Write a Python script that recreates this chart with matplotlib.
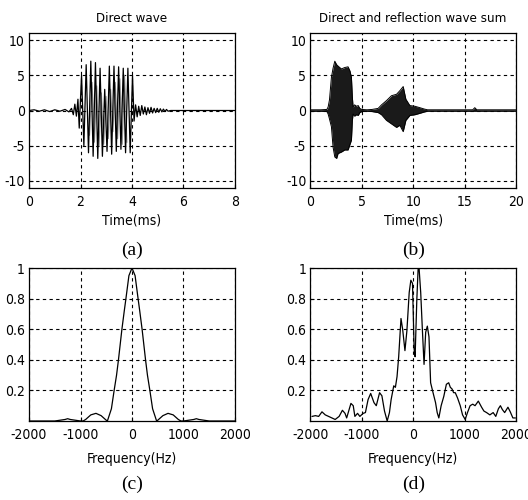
import matplotlib.pyplot as plt

# the reference uses a narrow sans, so take the condensed DejaVu face
plt.rcParams['font.family'] = ['DejaVu Sans']
plt.rcParams['font.stretch'] = 'condensed'
plt.rcParams['axes.unicode_minus'] = False

# (a) direct wave: time (ms) and amplitude, extremes
t_direct = [0.0, 0.2, 0.4, 0.6, 0.8, 1.0, 1.2, 1.4, 1.55, 1.65, 1.72, 1.78, 1.84, 1.90,
            1.95, 2.04, 2.13, 2.22, 2.31, 2.40, 2.49, 2.58, 2.67, 2.76, 2.85, 2.94,
            3.03, 3.12, 3.21, 3.30, 3.39, 3.48, 3.57, 3.66, 3.75, 3.84, 3.93, 4.02,
            4.08, 4.14, 4.20, 4.26, 4.32, 4.38, 4.44, 4.50, 4.56, 4.62, 4.68, 4.74,
            4.80, 4.86, 4.92, 4.98, 5.04, 5.10, 5.16, 5.22, 5.28, 5.34, 5.40, 5.50, 5.60, 8.0]
v_direct = [0.0, 0.1, -0.1, 0.1, -0.15, 0.1, -0.1, 0.15, -0.2, 0.3, -0.6, 0.9, -0.8, 1.6,
            -2.5, 5.0, -5.0, 6.5, -6.0, 7.0, -6.5, 6.8, -6.8, 6.0, -6.5, 3.0,
            -5.8, 6.3, -6.2, 6.3, -5.8, 6.2, -5.5, 6.0, -6.0, 6.0, -6.0, 5.0,
            -1.5, 0.8, -0.9, 0.6, -0.7, 0.7, -0.5, 0.5, -0.6, 0.4, -0.4, 0.45,
            -0.35, 0.3, -0.3, 0.3, -0.25, 0.25, -0.2, 0.2, -0.15, 0.15, -0.1, 0.0, 0.0, 0.0]
# lighter inner oscillation visible between the dark strokes
t_inner = [2.35, 2.45, 2.54, 2.63, 2.72, 2.81, 2.90, 2.99, 3.08, 3.17, 3.26, 3.35,
           3.44, 3.53, 3.62, 3.71, 3.80]
v_inner = [-3.5, 4.0, -4.5, 3.5, -5.0, 2.5, -4.8, 2.0, -4.0, 3.0, -3.0, 4.0,
           -4.0, 4.5, -4.8, 5.0, -4.5]

# (b) direct + reflection: upper and lower envelope of the dense waveform
t_sum = [0.0, 1.0, 1.6, 1.72, 1.85, 2.04, 2.2, 2.37, 2.55, 2.69, 3.01, 3.34, 3.66, 3.85,
         3.99, 4.08, 4.15, 4.3, 4.48, 4.65, 4.8, 5.0, 5.5, 6.0, 6.59, 6.92, 7.40, 7.89,
         8.38, 8.70, 9.03, 9.29, 9.68, 10.17, 10.65, 11.1, 11.4, 12.0, 14.0, 15.8, 16.0,
         16.2, 18.0, 20.0]
hi_sum = [0.1, 0.1, 0.15, 0.5, 1.5, 4.7, 6.0, 7.0, 6.5, 6.3, 5.9, 6.1, 6.2, 5.6,
          4.7, 1.9, 0.5, 0.8, 0.6, 0.7, 0.3, 0.15, 0.1, 0.15, 0.3, 0.8, 1.4, 2.1,
          2.3, 2.8, 3.4, 1.6, 0.7, 0.6, 0.4, 0.2, 0.1, 0.1, 0.1, 0.1, 0.4,
          0.1, 0.1, 0.1]
lo_sum = [-0.1, -0.1, -0.15, -0.5, -1.2, -2.3, -5.2, -6.6, -6.8, -6.1, -5.9, -5.6, -5.6, -4.8,
          -4.2, -1.4, -0.5, -0.8, -0.6, -0.7, -0.3, -0.15, -0.1, -0.15, -0.3, -0.6, -1.4, -1.9,
          -2.4, -2.1, -3.0, -1.4, -0.7, -0.6, -0.4, -0.2, -0.1, -0.1, -0.1, -0.1, -0.1,
          -0.1, -0.1, -0.1]

# (c) spectrum of direct wave
f_c = [-2000, -1500, -1300, -1250, -1200, -1000, -950, -900, -800, -700, -600, -500, -478,
       -400, -347, -300, -263, -196, -150, -118, -60, 0, 60, 118, 150, 196, 263, 300, 347,
       400, 478, 500, 600, 700, 800, 900, 950, 1000, 1200, 1250, 1300, 1500, 2000]
s_c = [0.0, 0.0, 0.01, 0.015, 0.01, 0.0, 0.0, 0.01, 0.04, 0.05, 0.035, 0.005, 0.0,
       0.08, 0.2, 0.3, 0.4, 0.6, 0.72, 0.8, 0.95, 1.0, 0.95, 0.8, 0.72, 0.6, 0.4, 0.3, 0.2,
       0.08, 0.0, 0.005, 0.035, 0.05, 0.04, 0.01, 0.0, 0.0, 0.01, 0.015, 0.01, 0.0, 0.0]

# (d) spectrum of the sum
f_d = [-1968, -1904, -1840, -1776, -1712, -1647, -1583, -1519, -1442, -1378, -1327, -1295,
       -1212, -1167, -1135, -1083, -1038, -974, -930, -878, -827, -763, -718, -654, -609,
       -558, -506, -462, -429, -378, -346, -314, -282, -237, -205, -160, -122, -77, -45,
       -13, 19, 38, 71, 96, 115, 147, 179, 212, 244, 276, 308, 340, 391, 436, 468, 500,
       545, 596, 647, 692, 724, 756, 788, 820, 865, 917, 962, 1013, 1058, 1109, 1160,
       1205, 1269, 1333, 1378, 1430, 1494, 1558, 1609, 1660, 1699, 1737, 1782, 1846,
       1891, 1942, 1987]
s_d = [0.03, 0.035, 0.03, 0.06, 0.04, 0.03, 0.02, 0.01, 0.03, 0.07, 0.05, 0.02,
       0.115, 0.1, 0.03, 0.05, 0.03, 0.05, 0.055, 0.14, 0.18, 0.12, 0.1, 0.185, 0.165,
       0.065, 0.0, 0.055, 0.14, 0.23, 0.22, 0.29, 0.42, 0.67, 0.6, 0.46, 0.59, 0.84, 0.92,
       0.9, 0.47, 0.42, 0.79, 0.99, 1.0, 0.84, 0.6, 0.37, 0.58, 0.62, 0.55, 0.25, 0.18,
       0.12, 0.055, 0.02, 0.1, 0.16, 0.24, 0.25, 0.22, 0.21, 0.185, 0.185, 0.15, 0.1,
       0.04, 0.01, 0.055, 0.1, 0.11, 0.1, 0.13, 0.09, 0.065, 0.055, 0.04, 0.055, 0.03,
       0.08, 0.1, 0.075, 0.055, 0.09, 0.06, 0.02, 0.02]

titles = ['Direct wave', 'Direct and reflection wave sum']
panel_labels = ['(a)', '(b)', '(c)', '(d)']


def style(ax, xlim, xticks, ylim, yticks, yticklabels=None):
    ax.set_xlim(xlim)
    ax.set_ylim(ylim)
    ax.set_xticks(xticks)
    ax.set_yticks(yticks)
    if yticklabels is not None:
        ax.set_yticklabels(yticklabels)
    ax.grid(True, color='black', linestyle=(0, (3, 3)), linewidth=0.8)
    ax.set_axisbelow(True)
    ax.tick_params(direction='in', length=3, labelsize=10, width=0.8)
    ax.tick_params(axis='x', pad=5)
    ax.tick_params(axis='y', pad=3)
    for s in ax.spines.values():
        s.set_linewidth(0.9)


fig = plt.figure(figsize=(5.28, 5.0), dpi=100)
ax_a = fig.add_axes([0.055, 0.624, 0.390, 0.310])
ax_b = fig.add_axes([0.588, 0.624, 0.389, 0.310])
ax_c = fig.add_axes([0.055, 0.158, 0.390, 0.306])
ax_d = fig.add_axes([0.588, 0.158, 0.389, 0.306])

ax_a.plot(t_inner, v_inner, color='#8c8c8c', linewidth=0.8)
ax_a.plot(t_direct, v_direct, color='black', linewidth=0.9)
style(ax_a, (0, 8), [0, 2, 4, 6, 8], (-11, 11), [-10, -5, 0, 5, 10])

ax_b.fill_between(t_sum, lo_sum, hi_sum, color='#1a1a1a', linewidth=0)
ax_b.plot(t_sum, hi_sum, color='black', linewidth=0.7)
ax_b.plot(t_sum, lo_sum, color='black', linewidth=0.7)
style(ax_b, (0, 20), [0, 5, 10, 15, 20], (-11, 11), [-10, -5, 0, 5, 10])

ax_c.plot(f_c, s_c, color='black', linewidth=0.9)
style(ax_c, (-2000, 2000), [-2000, -1000, 0, 1000, 2000], (0, 1),
      [0.2, 0.4, 0.6, 0.8, 1.0], ['0.2', '0.4', '0.6', '0.8', '1'])

ax_d.plot(f_d, s_d, color='black', linewidth=0.9)
style(ax_d, (-2000, 2000), [-2000, -1000, 0, 1000, 2000], (0, 1),
      [0.2, 0.4, 0.6, 0.8, 1.0], ['0.2', '0.4', '0.6', '0.8', '1'])

for ax, title in zip([ax_a, ax_b], titles):
    ax.set_title(title, fontsize=9.5, pad=8)
for ax in [ax_a, ax_b]:
    ax.set_xlabel('Time(ms)', fontsize=10, labelpad=3)
for ax in [ax_c, ax_d]:
    ax.set_xlabel('Frequency(Hz)', fontsize=10, labelpad=7)

for x, y, lab in zip([0.25, 0.783, 0.25, 0.783], [0.5, 0.5, 0.032, 0.032], panel_labels):
    fig.text(x, y, lab, fontsize=14, family='Liberation Serif', stretch='normal',
             ha='center', va='center')

fig.savefig('out.png', dpi=100)
plt.close(fig)
